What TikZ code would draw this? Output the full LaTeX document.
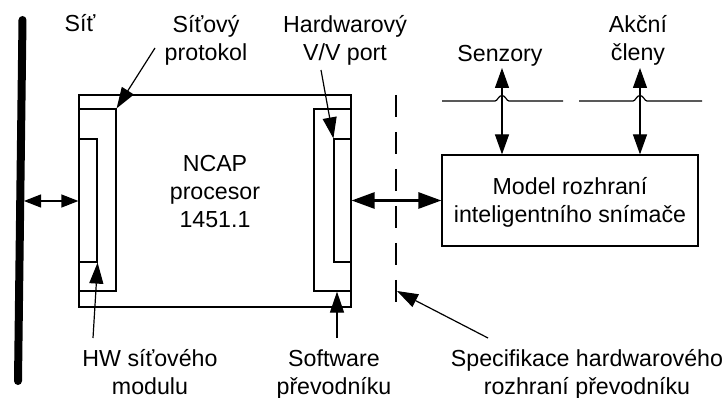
\documentclass[tikz,border=0pt]{standalone}
\usepackage{fontspec}
\setmainfont{Liberation Sans}
\usetikzlibrary{arrows.meta}

\begin{document}
\begin{tikzpicture}[x=1pt,y=-1pt,
  lbl/.style={font=\fontsize{23.2}{28}\selectfont, align=center, inner sep=0pt},
  box/.style={draw, line width=1.2pt, inner sep=0pt},
  conn/.style={line width=1.2pt},
  tipto/.style={conn, -{Triangle[length=21pt,width=14pt]}},
  both/.style={conn, {Triangle[length=20pt,width=14pt]}-{Triangle[length=20pt,width=14pt]}},
  busarrow/.style={conn, {Triangle[length=17pt,width=13pt]}-{Triangle[length=17pt,width=13pt]}},
  bold/.style={line width=2.8pt, {Triangle[length=23pt,width=16pt]}-{Triangle[length=23pt,width=16pt]}},
  boundary/.style={line width=1.3pt, dash pattern=on 22pt off 15pt}
]
\useasboundingbox (0,0) rectangle (726,398);

% network bus
\draw[line width=8pt, line cap=round] (22.5,20) -- (18,381);
\coordinate (busport) at (24,201);

% NCAP processor with its network slot and transducer slot
\node[box, minimum width=272pt, minimum height=212pt] (ncap) at (215,201) {};
\node[box, minimum width=37pt, minimum height=182pt] (lslot) at (97.5,200) {};
\node[box, minimum width=18pt, minimum height=123pt] (lhw) at (88,200.5) {};
\node[box, minimum width=37pt, minimum height=182pt] (rslot) at (332.5,200) {};
\node[box, minimum width=17pt, minimum height=123pt] (rsw) at (342.5,200.5) {};
\node[lbl] (ncaptxt) at (215,194.4) {\strut NCAP\\\strut procesor\\\strut 1451.1};

% smart transducer interface model
\node[box, lbl, minimum width=256pt, minimum height=91pt] (model) at (570,200.5)
  {\rule{0pt}{24pt}Model rozhraní\\\strut inteligentního snímače};

% hardware interface boundary
\coordinate (dtop) at (396,95);
\coordinate (dbot) at (396,302);
\draw[boundary] (dtop) -- (dbot);
\coordinate (spectip) at (397,291);

% sensor and actuator lines with jump-overs
\coordinate (sens) at (502,68);
\coordinate (act) at (640,68);
\draw[conn] (442,101) -- (495,101) .. controls (497.5,101) and (498.5,95.5) .. (502,95.5)
  .. controls (505.5,95.5) and (506.5,101) .. (509,101) -- (563,101);
\draw[conn] (579,101) -- (633,101) .. controls (635.5,101) and (636.5,95.5) .. (640,95.5)
  .. controls (643.5,95.5) and (644.5,101) .. (647,101) -- (702,101);
\draw[both] (sens) -- (sens |- model.north);
\draw[both] (act) -- (act |- model.north);

% data paths
\draw[busarrow] (busport) -- (ncap.west |- busport);
\draw[bold] (rsw.east) -- (model.west);

% labels
\node[lbl] (sit) at (80,26.4) {\strut Síť};
\node[lbl] (proto) at (206,41.4) {\strut Síťový\\\strut protokol};
\node[lbl] (hwport) at (345,41.4) {\strut Hardwarový\\\strut V/V port};
\node[lbl] (senz) at (500,56.4) {\strut Senzory};
\node[lbl] (akc) at (638,41.4) {\strut Akční\\\strut členy};
\node[lbl] (hwmod) at (150,374.4) {\strut HW síťového\\\strut modulu};
\node[lbl] (sw) at (334,374.4) {\strut Software\\\strut převodníku};
\node[lbl] (spec) at (587,374.4) {\strut Specifikace hardwarového\\\strut rozhraní převodníku};

% pointers
\coordinate (protoA) at (155,48);
\coordinate (hwportA) at (321,70);
\coordinate (hwmodA) at (93,338);
\coordinate (swA) at (337,338);
\coordinate (specA) at (488,338);
\draw[tipto] (protoA) -- (lslot.north east);
\draw[tipto] (hwportA) -- (rsw.north west);
\draw[tipto] (hwmodA) -- (lhw.south east);
\draw[tipto] (swA) -- (swA |- rslot.south);
\draw[tipto] (specA) -- (spectip);
\end{tikzpicture}
\end{document}
